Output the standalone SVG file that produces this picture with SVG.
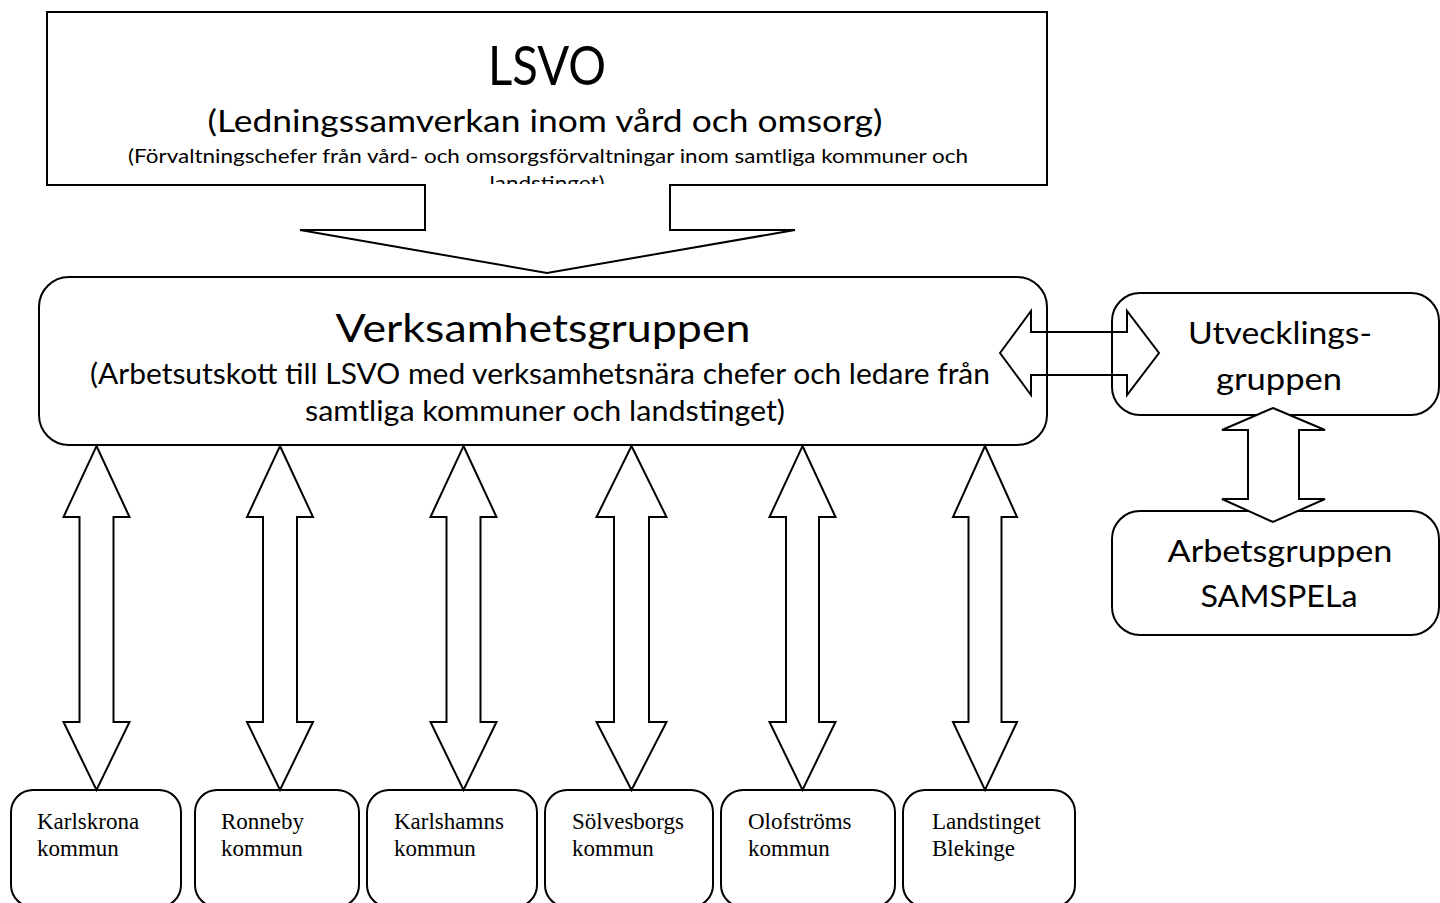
<svg xmlns="http://www.w3.org/2000/svg" width="1440" height="903" viewBox="0 0 1440 903">
<style>
.box{fill:#fff;stroke:#000;stroke-width:2}
.arr{fill:#fff;stroke:#000;stroke-width:2;stroke-linejoin:miter}
.sans{font-family:Lato,"Open Sans",sans-serif;fill:#000;text-anchor:middle}
.serif{font-family:"Liberation Serif","Times New Roman",serif;font-size:23px;fill:#000}
</style>
<rect width="1440" height="903" fill="#fff"/>
<g id="lsvo">
<rect class="box" x="47" y="12" width="1000" height="173"/>
<text class="sans" x="547" y="85" font-size="55" textLength="118" lengthAdjust="spacingAndGlyphs">LSVO</text>
<text class="sans" x="545" y="132" font-size="31" textLength="675" lengthAdjust="spacingAndGlyphs">(Ledningssamverkan inom vård och omsorg)</text>
<text class="sans" x="548" y="163" font-size="20" textLength="840" lengthAdjust="spacingAndGlyphs">(Förvaltningschefer från vård- och omsorgsförvaltningar inom samtliga kommuner och</text>
<text class="sans" x="547" y="190" font-size="20" textLength="115" lengthAdjust="spacingAndGlyphs">landstinget)</text>
</g>
<g id="verksamhetsgruppen">
<rect class="box" x="39" y="277" width="1008" height="168" rx="30"/>
<text class="sans" x="543" y="342" font-size="38" textLength="415" lengthAdjust="spacingAndGlyphs">Verksamhetsgruppen</text>
<text class="sans" x="540" y="384" font-size="28" textLength="900" lengthAdjust="spacingAndGlyphs">(Arbetsutskott till LSVO med verksamhetsnära chefer och ledare från</text>
<text class="sans" x="545" y="421" font-size="28" textLength="480" lengthAdjust="spacingAndGlyphs">samtliga kommuner och landstinget)</text>
</g>
<g id="utvecklingsgruppen">
<rect class="box" x="1112" y="293" width="327" height="122" rx="28"/>
<text class="sans" x="1280" y="344" font-size="31" textLength="184" lengthAdjust="spacingAndGlyphs">Utvecklings-</text>
<text class="sans" x="1279" y="390" font-size="31" textLength="126" lengthAdjust="spacingAndGlyphs">gruppen</text>
</g>
<g id="arbetsgruppen">
<rect class="box" x="1112" y="511" width="327" height="124" rx="28"/>
<text class="sans" x="1280" y="562" font-size="31" textLength="225" lengthAdjust="spacingAndGlyphs">Arbetsgruppen</text>
<text class="sans" x="1279" y="607" font-size="31" textLength="157" lengthAdjust="spacingAndGlyphs">SAMSPELa</text>
</g>
<g id="karlskrona">
<rect class="box" x="11" y="790" width="170" height="117" rx="22"/>
<text class="serif" x="37" y="829">Karlskrona</text>
<text class="serif" x="37" y="856">kommun</text>
</g>
<g id="ronneby">
<rect class="box" x="195" y="790" width="164" height="117" rx="22"/>
<text class="serif" x="221" y="829">Ronneby</text>
<text class="serif" x="221" y="856">kommun</text>
</g>
<g id="karlshamn">
<rect class="box" x="367" y="790" width="170" height="117" rx="22"/>
<text class="serif" x="394" y="829">Karlshamns</text>
<text class="serif" x="394" y="856">kommun</text>
</g>
<g id="solvesborg">
<rect class="box" x="545" y="790" width="168" height="117" rx="22"/>
<text class="serif" x="572" y="829">Sölvesborgs</text>
<text class="serif" x="572" y="856">kommun</text>
</g>
<g id="olofstrom">
<rect class="box" x="721" y="790" width="174" height="117" rx="22"/>
<text class="serif" x="748" y="829">Olofströms</text>
<text class="serif" x="748" y="856">kommun</text>
</g>
<g id="landstinget">
<rect class="box" x="903" y="790" width="172" height="117" rx="22"/>
<text class="serif" x="932" y="829">Landstinget</text>
<text class="serif" x="932" y="856">Blekinge</text>
</g>
<g id="connectors">
<path class="arr" d="M425,184 L425,230 L300,230 L547,273 L795,230 L670,230 L670,184"/>
<path class="arr" style="fill:none" d="M1000,353 L1031,311 L1031,332 L1127,332 L1127,311 L1159,353 L1127,395 L1127,375 L1031,375 L1031,395 Z"/>
<path class="arr" d="M1273,408 L1325,430 L1299,430 L1299,499 L1325,499 L1273,522 L1222,499 L1248,499 L1248,430 L1222,430 Z"/>
<path class="arr" d="M96.5,446 L129.5,517 L113.5,517 L113.5,722 L129.5,722 L96.5,790 L63.5,722 L79.5,722 L79.5,517 L63.5,517 Z"/>
<path class="arr" d="M280,446 L313,517 L297,517 L297,722 L313,722 L280,790 L247,722 L263,722 L263,517 L247,517 Z"/>
<path class="arr" d="M463.5,446 L496.5,517 L480.5,517 L480.5,722 L496.5,722 L463.5,790 L430.5,722 L446.5,722 L446.5,517 L430.5,517 Z"/>
<path class="arr" d="M631.5,446 L666.5,517 L649,517 L649,722 L666.5,722 L631.5,790 L596.5,722 L614,722 L614,517 L596.5,517 Z"/>
<path class="arr" d="M802.5,446 L835.5,517 L819,517 L819,722 L835.5,722 L802.5,790 L769.5,722 L786,722 L786,517 L769.5,517 Z"/>
<path class="arr" d="M985,446 L1017,517 L1001.5,517 L1001.5,722 L1017,722 L985,790 L953,722 L968.5,722 L968.5,517 L953,517 Z"/>
</g>
</svg>
